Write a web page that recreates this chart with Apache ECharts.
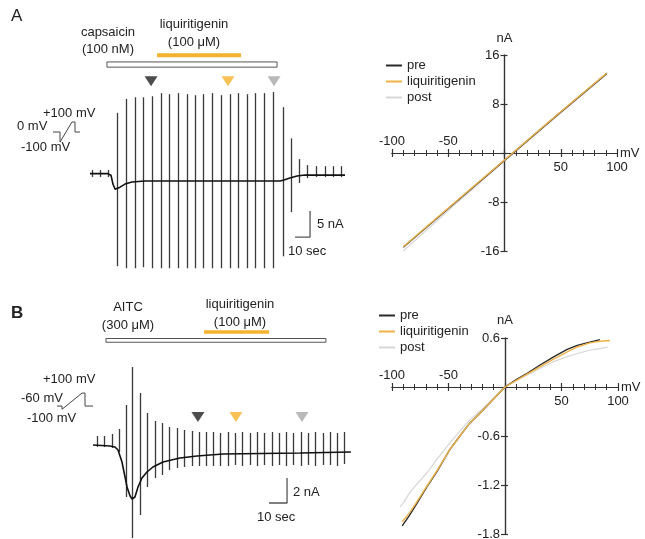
<!DOCTYPE html>
<html lang="en">
<head>
<meta charset="UTF-8">
<title>Liquiritigenin on TRPV1 / TRPA1 currents</title>
<script src="https://cdn.jsdelivr.net/npm/echarts@6/dist/echarts.min.js"></script>
<style>html,body{margin:0;padding:0;background:#fff;}</style>
</head>
<body>
<div id="chart" style="width:645px;height:539px;"></div>
<script>
// ---------- data (time in s, current in nA, voltage in mV) ----------
// A: capsaicin trace
const aTraceT = [0, 12, 14, 15.3, 16.7, 18, 20, 23.3, 28, 36.7, 126.7, 129.3, 133.3, 138, 143.3, 170];
const aTraceI = [0, 0, -0.3, -2.0, -3.0, -3.2, -2.6, -2.0, -1.6, -1.4, -1.4, -1.2, -0.85, -0.45, -0.27, -0.27];
const aSweepT = [1.3, 6.7, 12, 18, 24, 30, 35.3, 41.3, 47.3, 52.7, 58.7, 64.7, 70, 75.3, 81.3, 87.3, 93.3,
                 98.7, 104.7, 110, 116, 122, 128.7, 134, 139.3, 144.7, 150.7, 156.7, 162, 167.3];
const aSweepHi = [0.7, 0.7, 0.7, 11.7, 14.4, 14.7, 14.7, 14.9, 15.5, 15.3, 15.5, 15.3, 15.1, 15.3, 15.5, 15.1,
                  15.3, 15.5, 15.3, 15.5, 15.5, 15.7, 12.8, 6.8, 2.8, 1.65, 1.45, 1.45, 1.45, 1.45];
const aSweepLo = [-0.65, -0.65, -0.65, -17.8, -18.2, -18.2, -18.0, -18.2, -18.2, -18.2, -18.2, -18.2, -18.2, -18.2,
                  -18.2, -18.2, -18.2, -18.2, -18.2, -18.2, -18.2, -18.2, -15.9, -7.4, -1.8, -0.85, -0.65, -0.65, -0.65, -0.65];
const aCapsaicin = [11.3, 124.7];
const aLiquiritigenin = [44.7, 100.7];
const aMarkers = [40.7, 92, 122.7];
const aProtoX = [0, 7, 7, 19, 22, 22, 27];
const aProtoY = [0, 0, -100, 100, 100, 0, 0];

// A: I-V
const aIvV = [-90, -45, 0, 45, 91];
const aIvPre = [-15.4, -8.3, -1.2, 5.9, 13.0];
const aIvLiq = [-15.3, -8.2, -1.15, 5.95, 13.06];
const aIvPost = [-16.0, -8.6, -1.25, 5.8, 12.9];

// B: AITC trace
const bTraceT = [0, 9.4, 12.2, 13.9, 16.1, 17.8, 18.9, 20.6, 21.7, 23.3, 25, 27.2, 30, 33.3, 38.9, 48.3, 57.8, 72.2, 115, 143.3];
const bTraceI = [0, -0.08, -0.16, -0.4, -1.36, -2.56, -3.36, -4.08, -4.32, -4.16, -3.36, -2.64, -2.16, -1.76, -1.36,
                 -1.04, -0.88, -0.72, -0.64, -0.56];
const bSweepT = [2.2, 6.1, 10.6, 14.4, 18.3, 21.7, 26.1, 30, 34.4, 38.3, 42.2, 46.7, 50.6, 55, 58.9, 62.8, 66.7,
                 70.6, 75, 78.9, 82.8, 87.2, 91.1, 95, 99.4, 103.3, 107.2, 111.1, 115.6, 119.4, 123.3, 127.8, 131.7, 135.6, 139.4];
const bSweepHi = [0.72, 0.72, 0.88, 1.28, 3.2, 6.24, 4.16, 2.56, 1.92, 1.76, 1.44, 1.36, 1.2, 1.12, 1.04, 1.04, 1.04,
                  0.96, 1.04, 0.96, 1.04, 0.96, 1.04, 0.96, 1.04, 0.96, 1.04, 0.96, 1.04, 0.96, 1.04, 0.96, 1.04, 0.96, 1.04];
const bSweepLo = [-0.16, -0.16, -0.24, -0.56, -4.16, -7.44, -5.6, -3.36, -2.64, -2.4, -2.0, -1.84, -1.76, -1.68, -1.68,
                  -1.68, -1.68, -1.68, -1.68, -1.6, -1.68, -1.6, -1.68, -1.6, -1.68, -1.6, -1.68, -1.6, -1.68, -1.6,
                  -1.68, -1.6, -1.6, -1.68, -1.52];
const bAitc = [7.2, 129.4];
const bLiquiritigenin = [61.7, 97.8];
const bMarkers = [58.3, 79.4, 116.1];
const bProtoX = [0, 5, 5, 25, 28, 28, 36];
const bProtoY = [-60, -60, -100, 100, 100, -60, -60];

// B: I-V
const bPreV = [-91, -85, -80, -69, -60, -49, -40, -31, -20, -11, 0, 10, 20, 30, 43, 55, 64, 75, 84];
const bPreI = [-1.70, -1.58, -1.47, -1.22, -1.03, -0.77, -0.60, -0.44, -0.29, -0.16, 0, 0.09, 0.17, 0.26, 0.37, 0.46, 0.51, 0.55, 0.58];
const bLiqV = [-91, -85, -80, -69, -60, -49, -40, -31, -20, -11, 0, 10, 20, 30, 43, 55, 64, 75, 84, 93];
const bLiqI = [-1.65, -1.55, -1.45, -1.21, -1.02, -0.77, -0.60, -0.44, -0.29, -0.16, 0, 0.08, 0.16, 0.24, 0.34, 0.43, 0.49, 0.54, 0.56, 0.57];
const bPostV = [-93, -89, -86, -84, -80, -69, -60, -49, -40, -31, -20, -11, 0, 10, 20, 30, 43, 55, 64, 75, 84, 91];
const bPostI = [-1.47, -1.40, -1.33, -1.29, -1.22, -1.05, -0.88, -0.69, -0.54, -0.40, -0.27, -0.15, 0, 0.08, 0.15, 0.22, 0.31, 0.37, 0.41, 0.45, 0.47, 0.49];

const ivNames = ['pre', 'liquiritigenin', 'post'];

// ---------- styles ----------
const FONT = 'Liberation Sans, Arial, sans-serif';
const INK = '#222';
const AXIS = '#333';
const ORANGE = '#f5b22e';
const markerColors = ['#231f20', ORANGE, '#a8a8a8'];
const ivColors = { pre: '#2a2a2a', liquiritigenin: '#efb24a', post: '#d6d6d6' };

const chart = echarts.init(document.getElementById('chart'));

const pairs = (xs, ys) => xs.map((x, i) => [x, ys[i]]);

function sweepRender(params, api) {
  const p0 = api.coord([api.value(0), api.value(1)]);
  const p1 = api.coord([api.value(0), api.value(2)]);
  return {
    type: 'line',
    shape: { x1: Math.round(p0[0]) + 0.5, y1: p0[1], x2: Math.round(p1[0]) + 0.5, y2: p1[1] },
    style: { stroke: '#3a3a3a', lineWidth: 1.3 }
  };
}

function rectRender(params, api) {
  const p0 = api.coord([api.value(0), api.value(2)]);
  const p1 = api.coord([api.value(1), api.value(3)]);
  return {
    type: 'rect',
    shape: { x: p0[0], y: p0[1], width: p1[0] - p0[0], height: p1[1] - p0[1] },
    style: { fill: '#fff', stroke: '#555', lineWidth: 1 }
  };
}

function hiddenAxis(gridIndex, min, max) {
  return { gridIndex, type: 'value', min, max, show: false };
}

// panel layout: grid index == axis index for every series
const grids = [
  { left: 90, top: 50, width: 255, height: 225 },   // 0 A trace
  { left: 53, top: 118, width: 27, height: 28 },    // 1 A protocol
  { left: 392, top: 55, width: 225, height: 196 },  // 2 A I-V
  { left: 93, top: 325, width: 260, height: 215 },  // 3 B trace
  { left: 57, top: 389, width: 36, height: 28 },    // 4 B protocol
  { left: 392, top: 338, width: 226, height: 196 }  // 5 B I-V
].map(g => Object.assign({ outerBoundsMode: 'none', containLabel: false }, g));

// I-V axes cross at the origin: two overlapping axes per direction give ticks on both sides
function ivAxes(gridIndex, xr, yr) {
  const g = grids[gridIndex];
  const xOff = -(0 - yr[0]) / (yr[1] - yr[0]) * g.height;
  const yOff = -(0 - xr[0]) / (xr[1] - xr[0]) * g.width;
  const line = { onZero: false, lineStyle: { color: AXIS, width: 1.2 } };
  const tickStyle = { color: AXIS, width: 1.2 };
  const minor = { show: true, splitNumber: 5, length: 3, lineStyle: { color: AXIS, width: 1 } };
  const label = { fontSize: 13, color: INK, fontFamily: FONT, margin: 5 };
  const nameStyle = { fontSize: 13, color: INK, fontFamily: FONT };
  const xBase = { gridIndex, type: 'value', min: xr[0], max: xr[1], interval: xr[2], position: 'bottom',
    offset: xOff, axisLine: line, splitLine: { show: false }, minorTick: minor };
  const yBase = { gridIndex, type: 'value', min: yr[0], max: yr[1], interval: yr[2], position: 'left',
    offset: yOff, axisLine: line, splitLine: { show: false } };
  const xs = [
    Object.assign({}, xBase, {
      axisTick: { length: 4, lineStyle: tickStyle },
      axisLabel: Object.assign({}, label, { margin: 8, formatter: v => (v > 0 ? String(v) : '') }),
      name: 'mV', nameLocation: 'end', nameGap: 3,
      nameTextStyle: Object.assign({ padding: [0, 0, 5, 0] }, nameStyle)
    }),
    Object.assign({}, xBase, {
      axisTick: { inside: true, length: 4, lineStyle: tickStyle },
      axisLabel: Object.assign({}, label, { inside: true, formatter: v => (v < 0 ? String(v) : '') })
    })
  ];
  const ys = [
    Object.assign({}, yBase, {
      axisTick: { length: 4, lineStyle: tickStyle },
      axisLabel: Object.assign({}, label, {
        formatter: v => (Math.abs(v) < 1e-9 ? '' : String(+v.toFixed(1)))
      }),
      name: 'nA', nameLocation: 'end', nameGap: yr[3], nameTextStyle: nameStyle
    }),
    Object.assign({}, yBase, {
      axisTick: { inside: true, length: 3, lineStyle: tickStyle },
      axisLabel: { show: false }
    })
  ];
  return { xs, ys };
}

const aIv = ivAxes(2, [-100, 100, 50], [-16, 16, 8, 10]);
const bIv = ivAxes(5, [-100, 100, 50], [-1.8, 0.6, 0.6, 11]);

const xAxes = [hiddenAxis(0, 0, 170), hiddenAxis(1, 0, 27), aIv.xs[0], aIv.xs[1],
               hiddenAxis(3, 0, 144.44), hiddenAxis(4, 0, 36), bIv.xs[0], bIv.xs[1]];
const yAxes = [hiddenAxis(0, -19.5, 23.8), hiddenAxis(1, -140, 140), aIv.ys[0], aIv.ys[1],
               hiddenAxis(3, -7.6, 9.6), hiddenAxis(4, -195, 150), bIv.ys[0], bIv.ys[1]];

function traceSeries(ax, traceT, traceI, sweepT, sweepLo, sweepHi, drug, liq, markers, levels, bar) {
  const on = { xAxisIndex: ax, yAxisIndex: ax, silent: true };
  return [
    Object.assign({ type: 'custom', renderItem: sweepRender, encode: { x: 0, y: [1, 2] },
      data: sweepT.map((t, i) => [t, sweepLo[i], sweepHi[i]]) }, on),
    Object.assign({ type: 'line', data: pairs(traceT, traceI), showSymbol: false,
      lineStyle: { color: '#111', width: 1.6 } }, on),
    Object.assign({ type: 'custom', renderItem: rectRender, encode: { x: [0, 1], y: [2, 3] },
      data: [[drug[0], drug[1], levels.drugTop, levels.drugBottom]] }, on),
    Object.assign({ type: 'line', data: [[liq[0], levels.liq], [liq[1], levels.liq]], showSymbol: false,
      lineStyle: { color: ORANGE, width: levels.liqWidth, cap: 'butt' } }, on),
    Object.assign({ type: 'scatter', symbol: 'triangle', symbolRotate: 180, symbolSize: [13, 10],
      data: markers.map((t, i) => ({ value: [t, levels.marker], itemStyle: { color: markerColors[i] } })) }, on),
    Object.assign({ type: 'line', showSymbol: false, lineStyle: { color: '#555', width: 1.3 },
      data: [[bar.t - 10, bar.y], [bar.t, bar.y], [bar.t, bar.y + bar.nA]] }, on)
  ];
}

function protoSeries(ax, xs, ys) {
  return { type: 'line', xAxisIndex: ax, yAxisIndex: ax, silent: true, showSymbol: false,
    data: pairs(xs, ys), lineStyle: { color: '#444', width: 1 } };
}

function ivSeries(ax, name, vs, is) {
  return { type: 'line', name, xAxisIndex: ax, yAxisIndex: ax, showSymbol: false, silent: true,
    data: pairs(vs, is), itemStyle: { color: ivColors[name] },
    lineStyle: { color: ivColors[name], width: name === 'post' ? 1.2 : 1.4 } };
}

const series = [].concat(
  traceSeries(0, aTraceT, aTraceI, aSweepT, aSweepLo, aSweepHi, aCapsaicin, aLiquiritigenin, aMarkers,
    { drugTop: 21.5, drugBottom: 20.5, liq: 22.8, liqWidth: 4, marker: 17.8 },
    { t: 146.7, y: -12.2, nA: 5 }),
  [protoSeries(1, aProtoX, aProtoY)],
  [ivSeries(2, 'post', aIvV, aIvPost), ivSeries(2, 'pre', aIvV, aIvPre), ivSeries(2, 'liquiritigenin', aIvV, aIvLiq)],
  traceSeries(4, bTraceT, bTraceI, bSweepT, bSweepLo, bSweepHi, bAitc, bLiquiritigenin, bMarkers,
    { drugTop: 8.52, drugBottom: 8.22, liq: 9.04, liqWidth: 3.5, marker: 2.24 },
    { t: 107.8, y: -4.64, nA: 2 }),
  [protoSeries(5, bProtoX, bProtoY)],
  [ivSeries(6, 'post', bPostV, bPostI), ivSeries(6, 'pre', bPreV, bPreI), ivSeries(6, 'liquiritigenin', bLiqV, bLiqI)]
);

// annotation texts: [text, x, y, align, size, weight]
const labels = [
  ['A', 11, 16, 'left', 17, 'normal'],
  ['capsaicin', 108, 32, 'center', 13, 'normal'],
  ['(100 nM)', 108, 49, 'center', 13, 'normal'],
  ['liquiritigenin', 194, 24, 'center', 13, 'normal'],
  ['(100 \u03bcM)', 194, 42, 'center', 13, 'normal'],
  ['+100 mV', 43, 113, 'left', 13, 'normal'],
  ['0 mV', 17, 126, 'left', 13, 'normal'],
  ['-100 mV', 21, 147, 'left', 13, 'normal'],
  ['5 nA', 317, 224, 'left', 13, 'normal'],
  ['10 sec', 288, 251, 'left', 13, 'normal'],
  ['B', 11, 313, 'left', 17, 'bold'],
  ['AITC', 128, 307, 'center', 13, 'normal'],
  ['(300 \u03bcM)', 128, 325, 'center', 13, 'normal'],
  ['liquiritigenin', 240, 304, 'center', 13, 'normal'],
  ['(100 \u03bcM)', 240, 322, 'center', 13, 'normal'],
  ['+100 mV', 43, 379, 'left', 13, 'normal'],
  ['-60 mV', 21, 398, 'left', 13, 'normal'],
  ['-100 mV', 27, 418, 'left', 13, 'normal'],
  ['2 nA', 293, 492, 'left', 13, 'normal'],
  ['10 sec', 257, 517, 'left', 13, 'normal']
];

const legendBase = {
  orient: 'vertical', icon: 'rect', itemWidth: 16, itemHeight: 2, itemGap: 1,
  selectedMode: false, data: ivNames,
  textStyle: { fontSize: 13, color: INK, fontFamily: FONT, lineHeight: 15 }
};

chart.setOption({
  animation: false,
  textStyle: { fontFamily: FONT },
  grid: grids,
  xAxis: xAxes,
  yAxis: yAxes,
  legend: [
    Object.assign({ left: 381, top: 53 }, legendBase),
    Object.assign({ left: 374, top: 303 }, legendBase)
  ],
  series,
  graphic: labels.map(l => ({
    type: 'text', x: l[1], y: l[2], silent: true,
    style: { text: l[0], fontSize: l[4], fontWeight: l[5], fontFamily: FONT, fill: INK,
             align: l[3], verticalAlign: 'middle' }
  }))
});
</script>
</body>
</html>
